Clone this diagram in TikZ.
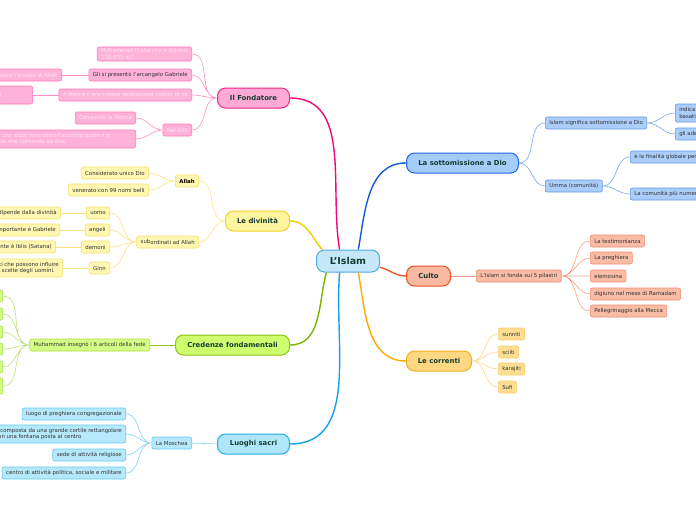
\documentclass[tikz,border=0pt]{standalone}
\usepackage{fontspec}
\setmainfont{DejaVu Sans}
\usetikzlibrary{calc}

\definecolor{rootfill}{RGB}{196,232,250}
\definecolor{rootline}{RGB}{80,170,225}
\definecolor{darktext}{RGB}{20,60,50}
\definecolor{leaftext}{RGB}{50,50,50}
% pink branch
\definecolor{pinkfill}{RGB}{255,170,212}
\definecolor{pinkline}{RGB}{240,40,135}
\definecolor{pinkbr}{RGB}{238,10,120}
\definecolor{pinkleaf}{RGB}{255,178,216}
\definecolor{pinkedge}{RGB}{255,120,185}
\definecolor{pinktw}{RGB}{255,140,196}
\definecolor{pinktext}{RGB}{255,228,242}
% yellow branch
\definecolor{yelfill}{RGB}{255,245,160}
\definecolor{yelline}{RGB}{238,208,40}
\definecolor{yelbr}{RGB}{240,205,0}
\definecolor{yelleaf}{RGB}{255,247,178}
\definecolor{yeledge}{RGB}{245,225,110}
\definecolor{yeltw}{RGB}{250,225,130}
% green branch
\definecolor{grnfill}{RGB}{205,255,110}
\definecolor{grnline}{RGB}{140,195,20}
\definecolor{grnbr}{RGB}{120,180,0}
\definecolor{grnleaf}{RGB}{212,255,132}
\definecolor{grnedge}{RGB}{170,220,70}
\definecolor{grntw}{RGB}{190,225,120}
% light blue branch
\definecolor{cyafill}{RGB}{176,230,250}
\definecolor{cyaline}{RGB}{40,170,230}
\definecolor{cyabr}{RGB}{20,160,230}
\definecolor{cyaleaf}{RGB}{182,232,252}
\definecolor{cyaedge}{RGB}{100,200,240}
\definecolor{cyatw}{RGB}{130,210,245}
% blue branch
\definecolor{blufill}{RGB}{165,205,250}
\definecolor{bluline}{RGB}{30,100,220}
\definecolor{blubr}{RGB}{20,90,220}
\definecolor{bluleaf}{RGB}{170,205,250}
\definecolor{bluedge}{RGB}{100,150,230}
\definecolor{blutw}{RGB}{120,165,235}
% orange branch
\definecolor{orafill}{RGB}{248,185,160}
\definecolor{oraline}{RGB}{235,80,30}
\definecolor{orabr}{RGB}{240,90,40}
\definecolor{oraleaf}{RGB}{249,188,165}
\definecolor{oraedge}{RGB}{240,140,110}
\definecolor{oratw}{RGB}{245,160,130}
% amber branch
\definecolor{ambfill}{RGB}{255,215,130}
\definecolor{ambline}{RGB}{240,175,30}
\definecolor{ambbr}{RGB}{250,170,0}
\definecolor{ambleaf}{RGB}{255,222,145}
\definecolor{ambedge}{RGB}{250,205,110}
\definecolor{ambtw}{RGB}{252,215,140}

\begin{document}
\begin{tikzpicture}
	[x=1pt,y=-1pt,
	 central/.style={draw=rootline,fill=rootfill,rounded corners=8pt,line width=1pt,
		minimum width=63,minimum height=22,text=darktext,
		font=\fontsize{9.5}{11}\selectfont\bfseries},
	 topic/.style={rounded corners=8pt,line width=1pt,minimum height=20,
		text=darktext,font=\fontsize{6.9}{8}\selectfont\bfseries},
	 leaf/.style={rounded corners=2pt,line width=0.6pt,minimum height=12,
		inner xsep=4,inner ysep=1.5,align=left,text=leaftext,
		font=\fontsize{5.4}{6.6}\selectfont},
	 branch/.style={line width=1.4pt},
	 twig/.style={line width=0.6pt}]
	\useasboundingbox (0,0) rectangle (696,520);
	\clip (0,0) rectangle (696,520);

	% centre and main topics
	\node[central] (root) at (348,261) {L'Islam};
	\node[topic,draw=pinkline,fill=pinkfill,minimum width=72,anchor=east] (fond) at (290,98) {Il Fondatore};
	\node[topic,draw=yelline,fill=yelfill,minimum width=64,anchor=east] (div) at (290,221) {Le divinità};
	\node[topic,draw=grnline,fill=grnfill,minimum width=114,anchor=east] (cred) at (290,345) {Credenze fondamentali};
	\node[topic,draw=cyaline,fill=cyafill,minimum width=72,anchor=east] (luog) at (290,444) {Luoghi sacri};
	\node[topic,draw=bluline,fill=blufill,minimum width=112,anchor=west] (sott) at (406,163) {La sottomissione a Dio};
	\node[topic,draw=oraline,fill=orafill,minimum width=44,anchor=west] (cult) at (406,276) {Culto};
	\node[topic,draw=ambline,fill=ambfill,minimum width=65,anchor=west] (corr) at (406,361) {Le correnti};

	\draw[branch,pinkbr] (root.126) to[out=100,in=0] (fond.east);
	\draw[branch,yelbr] (root.156) to[out=130,in=0] (div.east);
	\draw[branch,grnbr] (root.208) to[out=-105,in=0] (cred.east);
	\draw[branch,cyabr] (root.234) to[out=-95,in=0] (luog.east);
	\draw[branch,blubr] (root.48) to[out=80,in=180] (sott.west);
	\draw[branch,orabr] (root.349) to[out=-15,in=180] (cult.west);
	\draw[branch,ambbr] (root.312) to[out=-80,in=180] (corr.west);

	%
	% Il Fondatore
	%
	\tikzset{pk/.style={leaf,draw=pinkedge,fill=pinkleaf,text=pinktext,anchor=east}}
	\node[pk] (muh) at (192,54) {Muhammad (Colui che è lodato)\\570-632 d.C.};
	\node[pk,text=leaftext] (gab) at (192,75) {Gli si presentò l'arcangelo Gabriele};
	\node[pk] (inv) at (62,75) {essere l'inviato di Allah};
	\node[pk] (mec) at (192,95) {A Mecca c'era troppa opposizione contro di lui};
	\node[pk,text width=32,minimum height=18] (al) at (33,95) {al\\ };
	\node[pk] (n630) at (192,130) {Nel 630};
	\node[pk] (conq) at (136,118) {Conquistò la Mecca};
	\node[pk,text width=148,minimum height=18] (teo) at (136,139) {Fondò uno stato teocratico(l'autorità politica e\\religiosa che comanda da Dio)};

	\draw[twig,pinktw] (fond.west) to[out=180,in=0] (muh.east)
		(fond.west) to[out=180,in=0] (gab.east)
		(fond.west) to[out=180,in=0] (mec.east)
		(fond.west) to[out=180,in=0] (n630.east);
	\draw[twig,pinktw] (gab.west) -- (inv.east);
	\draw[twig,pinktw] (mec.west) -- (al.east);
	\draw[twig,pinktw] (n630.west) to[out=180,in=0] (conq.east)
		(n630.west) to[out=180,in=0] (teo.east);

	%
	% Le divinita
	%
	\tikzset{yl/.style={leaf,draw=yeledge,fill=yelleaf,anchor=east}}
	\node[yl,font=\fontsize{5.4}{6.6}\selectfont\bfseries,text=black] (allah) at (199,181) {Allah};
	\node[yl] (unico) at (149,173) {Considerato unico Dio};
	\node[yl] (nomi) at (149,190) {venerato con 99 nomi belli};
	\node[yl] (sub) at (199,242) {\raisebox{1.2pt}{sub}ordinati ad Allah};
	\node[yl] (uomo) at (110,213) {uomo};
	\node[yl] (dip) at (61,213) {dipende dalla divinità};
	\node[yl] (ang) at (110,230) {angeli};
	\node[yl] (imp) at (60,230) {il più importante è Gabriele};
	\node[yl] (dem) at (110,247) {demoni};
	\node[yl] (ibl) at (56,247) {il più potente è Iblis (Satana)};
	\node[yl] (ginn) at (110,268) {Ginn};
	\node[yl,minimum height=18] (infl) at (63,268) {spiriti che possono influire\\sulle scelte degli uomini.};

	\draw[twig,yeltw] (div.west) to[out=180,in=0] (allah.east)
		(div.west) to[out=180,in=0] (sub.east);
	\draw[twig,yeltw] (allah.west) to[out=180,in=0] (unico.east)
		(allah.west) to[out=180,in=0] (nomi.east);
	\draw[twig,yeltw] (sub.west) to[out=180,in=0] (uomo.east)
		(sub.west) to[out=180,in=0] (ang.east)
		(sub.west) to[out=180,in=0] (dem.east)
		(sub.west) to[out=180,in=0] (ginn.east);
	\draw[twig,yeltw] (uomo.west) -- (dip.east);
	\draw[twig,yeltw] (ang.west) -- (imp.east);
	\draw[twig,yeltw] (dem.west) -- (ibl.east);
	\draw[twig,yeltw] (ginn.west) -- (infl.east);

	%
	% Credenze fondamentali
	%
	\tikzset{gr/.style={leaf,draw=grnedge,fill=grnleaf,anchor=east}}
	\node[gr] (art) at (150,345) {Muhammad insegnò i 6 articoli della fede};
	\node[gr,minimum width=24] (a1) at (3,296) {};
	\node[gr,minimum width=24] (a2) at (3,314) {};
	\node[gr,minimum width=24] (a3) at (3,332) {};
	\node[gr,minimum width=24] (a4) at (3,349) {};
	\node[gr,minimum width=24] (a5) at (3,367) {};
	\node[gr,minimum width=24,minimum height=16] (a6) at (3,386) {};

	\draw[twig,grnline] (cred.west) -- (art.east);
	\draw[twig,grntw] (art.west) to[out=180,in=0] (a1.east)
		(art.west) to[out=180,in=0] (a2.east)
		(art.west) to[out=180,in=0] (a3.east)
		(art.west) to[out=180,in=0] (a4.east)
		(art.west) to[out=180,in=0] (a5.east)
		(art.west) to[out=180,in=0] (a6.east);

	%
	% Luoghi sacri
	%
	\tikzset{cy/.style={leaf,draw=cyaedge,fill=cyaleaf,anchor=east}}
	\node[cy] (mosc) at (192,443) {La Moschea};
	\node[cy] (prec) at (126,414) {luogo di preghiera congregazionale};
	\node[cy,minimum height=18] (cort) at (126,434) {è composta da una grande cortile rettangolare\\con una fontana posta al centro};
	\node[cy] (sede) at (126,455) {sede di attività religiose};
	\node[cy] (cent) at (126,473) {centro di attività politica, sociale e militare};

	\draw[twig,cyatw] (luog.west) -- (mosc.east);
	\draw[twig,cyatw] (mosc.west) to[out=180,in=0] (prec.east)
		(mosc.west) to[out=180,in=0] (cort.east)
		(mosc.west) to[out=180,in=0] (sede.east)
		(mosc.west) to[out=180,in=0] (cent.east);

	%
	% La sottomissione a Dio
	%
	\tikzset{bl/.style={leaf,draw=bluedge,fill=bluleaf,anchor=west}}
	\node[bl] (sig) at (545,123) {Islam significa sottomissione a Dio};
	\node[bl,minimum height=18] (indi) at (675,113) {indica l'abbandono\\basati su};
	\node[bl] (ader) at (675,134) {gli aderenti};
	\node[bl] (umma) at (545,186) {Umma (comunità)};
	\node[bl] (fin) at (630,157) {è la finalità globale per};
	\node[bl] (num) at (630,194) {La comunità più numerosa};

	\draw[twig,blutw] (sott.east) to[out=0,in=180] (sig.west)
		(sott.east) to[out=0,in=180] (umma.west);
	\draw[twig,blutw] (sig.east) to[out=0,in=180] (indi.west)
		(sig.east) to[out=0,in=180] (ader.west);
	\draw[twig,blutw] (umma.east) to[out=0,in=180] (fin.west)
		(umma.east) to[out=0,in=180] (num.west);

	%
	% Culto
	%
	\tikzset{or/.style={leaf,draw=oraedge,fill=oraleaf,anchor=west}}
	\node[or] (pil) at (476,276) {L'Islam si fonda sui 5 pilastri};
	\node[or] (test) at (590,241) {La testimonianza};
	\node[or] (preg) at (590,258) {La preghiera};
	\node[or] (elem) at (590,276) {elemosina};
	\node[or] (dig) at (590,294) {digiuno nel mese di Ramadam};
	\node[or] (pell) at (590,311) {Pellegrinaggio alla Mecca};

	\draw[twig,oratw] (cult.east) -- (pil.west);
	\draw[twig,oratw] (pil.east) to[out=0,in=180] (test.west)
		(pil.east) to[out=0,in=180] (preg.west)
		(pil.east) to[out=0,in=180] (elem.west)
		(pil.east) to[out=0,in=180] (dig.west)
		(pil.east) to[out=0,in=180] (pell.west);

	%
	% Le correnti
	%
	\tikzset{am/.style={leaf,draw=ambedge,fill=ambleaf,anchor=west}}
	\node[am] (sun) at (498,334) {sunniti};
	\node[am] (sci) at (498,352) {sciiti};
	\node[am] (kar) at (498,369) {karajiti};
	\node[am] (suf) at (498,387) {Sufi};

	\draw[twig,ambtw] (corr.east) to[out=0,in=180] (sun.west)
		(corr.east) to[out=0,in=180] (sci.west)
		(corr.east) to[out=0,in=180] (kar.west)
		(corr.east) to[out=0,in=180] (suf.west);
\end{tikzpicture}
\end{document}
